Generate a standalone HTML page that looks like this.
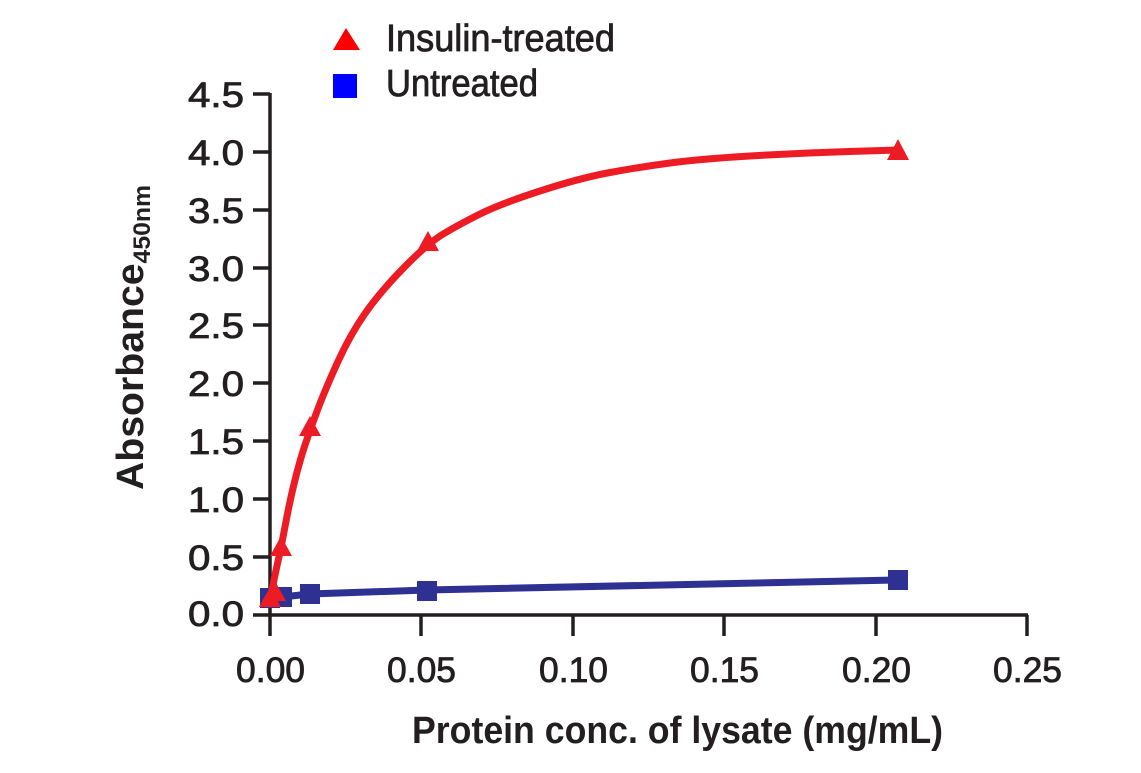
<!DOCTYPE html>
<html><head><style>
body{margin:0;background:#fff;}
svg text{font-family:"Liberation Sans",sans-serif;fill:#231f20;}
.t{stroke:#231f20;stroke-width:0.8;}
</style></head><body>
<svg width="1141" height="768" xmlns="http://www.w3.org/2000/svg">
<g stroke="#231f20" stroke-width="3.5" fill="none">
<line x1="270" y1="93" x2="270" y2="636"/>
<line x1="253" y1="615" x2="1028" y2="615"/>
<line x1="253" y1="94" x2="270" y2="94"/>
<line x1="253" y1="152" x2="270" y2="152"/>
<line x1="253" y1="210" x2="270" y2="210"/>
<line x1="253" y1="268" x2="270" y2="268"/>
<line x1="253" y1="325" x2="270" y2="325"/>
<line x1="253" y1="383" x2="270" y2="383"/>
<line x1="253" y1="441" x2="270" y2="441"/>
<line x1="253" y1="499" x2="270" y2="499"/>
<line x1="253" y1="557" x2="270" y2="557"/>
<line x1="421" y1="615" x2="421" y2="636"/>
<line x1="573" y1="615" x2="573" y2="636"/>
<line x1="724" y1="615" x2="724" y2="636"/>
<line x1="876" y1="615" x2="876" y2="636"/>
<line x1="1027" y1="615" x2="1027" y2="636"/>
</g>
<g font-size="35" class="t">
<text x="188" y="107" textLength="56" lengthAdjust="spacingAndGlyphs">4.5</text>
<text x="188" y="165" textLength="56" lengthAdjust="spacingAndGlyphs">4.0</text>
<text x="188" y="223" textLength="56" lengthAdjust="spacingAndGlyphs">3.5</text>
<text x="188" y="281" textLength="56" lengthAdjust="spacingAndGlyphs">3.0</text>
<text x="188" y="338" textLength="56" lengthAdjust="spacingAndGlyphs">2.5</text>
<text x="188" y="396" textLength="56" lengthAdjust="spacingAndGlyphs">2.0</text>
<text x="188" y="454" textLength="56" lengthAdjust="spacingAndGlyphs">1.5</text>
<text x="188" y="512" textLength="56" lengthAdjust="spacingAndGlyphs">1.0</text>
<text x="188" y="570" textLength="56" lengthAdjust="spacingAndGlyphs">0.5</text>
<text x="188" y="626" textLength="56" lengthAdjust="spacingAndGlyphs">0.0</text>
</g>
<g font-size="35" class="t">
<text x="236" y="682" textLength="69" lengthAdjust="spacingAndGlyphs">0.00</text>
<text x="387" y="682" textLength="69" lengthAdjust="spacingAndGlyphs">0.05</text>
<text x="539" y="682" textLength="69" lengthAdjust="spacingAndGlyphs">0.10</text>
<text x="690" y="682" textLength="69" lengthAdjust="spacingAndGlyphs">0.15</text>
<text x="842" y="682" textLength="69" lengthAdjust="spacingAndGlyphs">0.20</text>
<text x="993" y="682" textLength="69" lengthAdjust="spacingAndGlyphs">0.25</text>
</g>
<text x="412" y="743" font-size="38" font-weight="bold" textLength="531" lengthAdjust="spacingAndGlyphs">Protein conc. of lysate (mg/mL)</text>
<text transform="translate(143,490) rotate(-90)" font-size="38" font-weight="bold" textLength="305" lengthAdjust="spacingAndGlyphs">Absorbance<tspan font-size="24" dy="7">450nm</tspan></text>
<polyline fill="none" stroke="#2e3192" stroke-width="7" points="270,600 282,597 310,594 427,590 898,580"/>
<g fill="#2e3192">
<rect x="260" y="588" width="20" height="20"/><rect x="272" y="587" width="20" height="20"/>
<rect x="300" y="584" width="20" height="20"/><rect x="417" y="581" width="20" height="20"/>
<rect x="888" y="570" width="20" height="20"/>
</g>
<path fill="none" stroke="#ed1c24" stroke-width="7" stroke-linejoin="round" stroke-linecap="round" d="M270,602 Q273,585 274.5,577.5 Q276,570 278.5,559 Q281,548 285.5,524 Q290,500 295,480 Q300,460 305,445 Q310,430 317.5,410 Q325,390 337.5,362.5 Q350,335 365,313.5 Q380,292 404,267.5 Q428,243 444,233.5 Q460,224 480,214 Q500,204 540,191 Q580,178 610,172.5 Q640,167 670,163 Q700,159 750,156 Q800,153 849,151.5 L898,150"/>
<g fill="#ed1c24">
<polygon points="270,587 259,607 281,607"/><polygon points="275,581 264,601 286,601"/>
<polygon points="281,536 270,556 292,556"/><polygon points="310,416 299,436 321,436"/>
<polygon points="428,231 417,251 439,251"/><polygon points="898,139 887,160 909,160"/>
</g>
<polygon points="346,28 333,50 360,50" fill="#ff0000"/>
<rect x="333" y="74" width="24" height="24" fill="#0000ff"/>
<text x="386" y="51" font-size="38" class="t" textLength="229" lengthAdjust="spacingAndGlyphs">Insulin-treated</text>
<text x="386" y="96" font-size="38" class="t" textLength="152" lengthAdjust="spacingAndGlyphs">Untreated</text>
</svg>
</body></html>
